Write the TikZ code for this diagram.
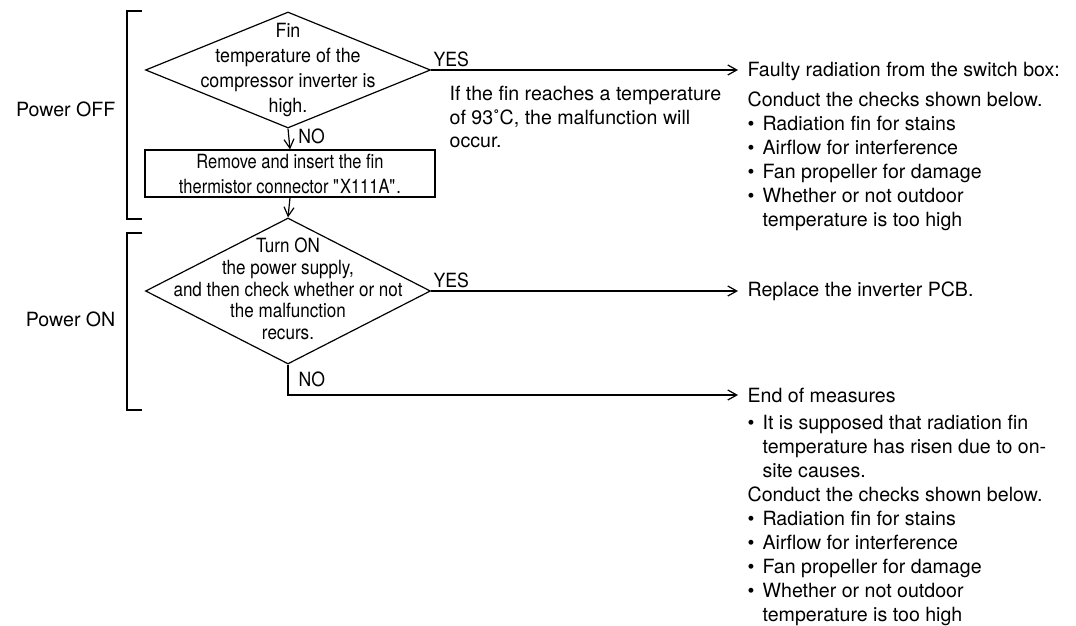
\documentclass[tikz,border=0pt]{standalone}
\usepackage{fontspec}
\setmainfont{TeX Gyre Heros}
\usetikzlibrary{shapes.geometric,arrows.meta}
\newcommand{\bul}{\makebox[7.5pt][l]{\textbullet}}
\newcommand{\ind}{\hspace*{7.5pt}}
\newcommand{\narrow}[1]{\addfontfeature{FakeStretch=#1}}

\begin{document}
\begin{tikzpicture}[x=0.5pt,y=-0.5pt,line width=0.6pt,
    font=\fontsize{9.8}{12}\selectfont,
    arr/.style={-{Straight Barb[length=4.5pt,width=5pt]}},
    decision/.style={draw,diamond,inner sep=0pt,minimum width=142.5pt},
    action/.style={draw,inner sep=0pt,align=center,minimum width=145pt,minimum height=23.5pt},
    txt/.style={inner sep=0pt,align=center},
    lbl/.style={inner sep=0pt,font=\fontsize{9.8}{12}\selectfont\narrow{0.9}},
    result/.style={anchor=west,inner xsep=4.5pt,inner ysep=0pt},
    lst/.style={inner sep=0pt,align=left,anchor=north west}]
    \useasboundingbox (0,0) rectangle (1076,626);

    % brackets
    \draw (142,11) -- (127,11) -- (127,219) -- (142,219);
    \draw (142,233) -- (127,233) -- (127,410) -- (142,410);
    \node[inner sep=0pt,anchor=east] (off) at (116,109) {Power OFF};
    \node[inner sep=0pt,anchor=east] (on) at (116,319) {Power ON};

    % steps
    \node[decision,minimum height=58pt] (fin) at (288,70) {};
    \node[txt,font=\fontsize{9.8}{12.5}\selectfont\narrow{0.91}] (fintxt) at (288,70)
        {Fin\\temperature of the\\compressor inverter is\\high.};
    \node[action,font=\fontsize{9.8}{12.5}\selectfont\narrow{0.84}] (conn) at (290,173.5)
        {Remove and insert the fin\\thermistor connector \textquotedbl X111A\textquotedbl.};
    \node[decision,minimum height=73pt] (recur) at (288,291) {};
    \node[txt,font=\fontsize{9.8}{10.8}\selectfont\narrow{0.87}] (recurtxt) at (288,289)
        {Turn ON\\the power supply,\\and then check whether or not\\the malfunction\\recurs.};

    % results
    \node[result] (faulty) at (738,71) {Faulty radiation from the switch box:};
    \node[lst] (checks) at (747,91) {Conduct the checks shown below.\\
        \bul Radiation fin for stains\\
        \bul Airflow for interference\\
        \bul Fan propeller for damage\\
        \bul Whether or not outdoor\\
        \ind temperature is too high};
    \node[lst,font=\fontsize{9.8}{11.75}\selectfont] (note) at (449,86)
        {If the fin reaches a temperature\\of 93˚C, the malfunction will\\occur.};
    \node[result] (pcb) at (738,291) {Replace the inverter PCB.};
    \node[result] (end) at (738,395) {End of measures};
    \node[lst] (endchecks) at (747,415) {\bul It is supposed that radiation fin\\
        \ind temperature has risen due to on-\\
        \ind site causes.\\
        Conduct the checks shown below.\\
        \bul Radiation fin for stains\\
        \bul Airflow for interference\\
        \bul Fan propeller for damage\\
        \bul Whether or not outdoor\\
        \ind temperature is too high};

    % connectors
    \draw[arr] (fin.east) -- node[lbl,pos=0,anchor=base west,xshift=1pt,yshift=1.8pt] {YES} (fin.east -| faulty.west);
    \draw[arr] (fin.south) -- node[lbl,pos=0.35,anchor=west,xshift=4.5pt] {NO} (conn.north);
    \draw[arr] (conn.south) -- (recur.north);
    \draw[arr] (recur.east) -- node[lbl,pos=0,anchor=base west,xshift=1pt,yshift=1.8pt] {YES} (recur.east -| pcb.west);
    \draw[arr] (recur.south) |- node[lbl,pos=0.25,anchor=west,xshift=5pt] {NO} (end.west);
\end{tikzpicture}
\end{document}
